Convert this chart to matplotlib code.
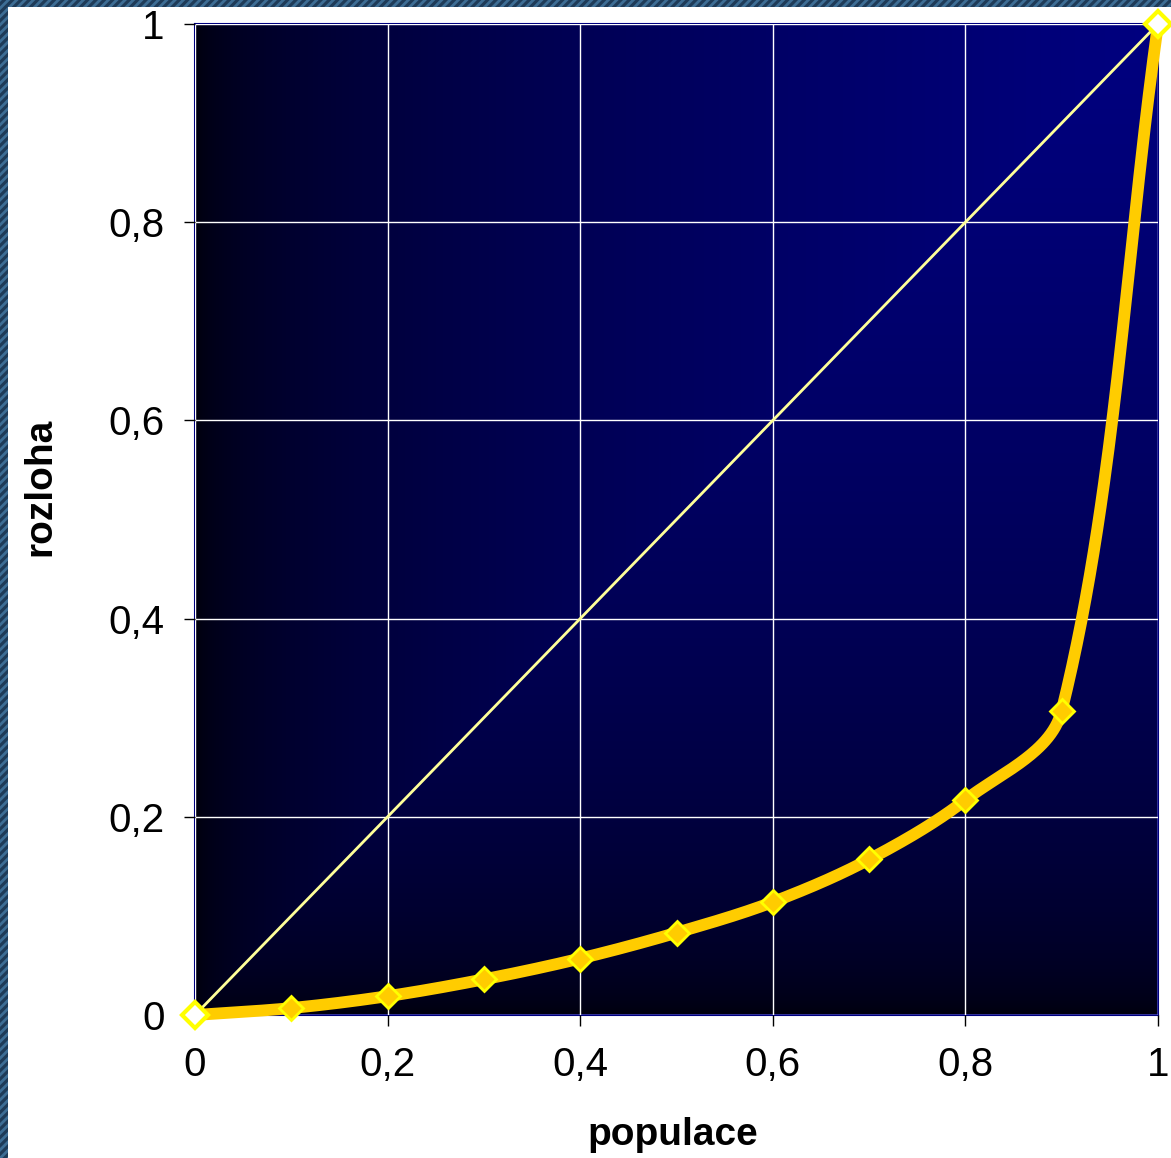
import numpy as np
import matplotlib
matplotlib.use("Agg")
import matplotlib.pyplot as plt
from matplotlib.patches import Rectangle
from matplotlib.colors import LinearSegmentedColormap

plt.rcParams['font.family'] = ['Liberation Sans', 'DejaVu Sans']
plt.rcParams['hatch.linewidth'] = 2.0

# Data
populace = [0.0, 0.1, 0.2, 0.3, 0.4, 0.5, 0.6, 0.7, 0.8, 0.9, 1.0]
rozloha = [0.0, 0.007, 0.019, 0.036, 0.057, 0.083, 0.114, 0.157, 0.217, 0.307, 1.0]
diag_x = [0.0, 1.0]
diag_y = [0.0, 1.0]
tick_vals = [0, 0.2, 0.4, 0.6, 0.8, 1]
tick_labels = ["0", "0,2", "0,4", "0,6", "0,8", "1"]
x_label = "populace"
y_label = "rozloha"


def smooth(xs, ys, n=60):
    P = np.column_stack([xs, ys]).astype(float)
    out = []
    m = len(P)
    d = np.linalg.norm(np.diff(P, axis=0), axis=1)
    for i in range(m - 1):
        p1, p2 = P[i], P[i + 1]
        d12 = d[i]
        if i > 0:
            p0 = P[i - 1]
            c1 = p1 + (p2 - p0) * d12 / (d[i - 1] + d12) / 3.0
        else:
            c1 = p1 + (p2 - p1) / 3.0
        if i + 2 < m:
            p3 = P[i + 2]
            c2 = p2 - (p3 - p1) * d12 / (d12 + d[i + 1]) / 3.0
        else:
            c2 = p2 - (p2 - p1) / 3.0
        t = np.linspace(0, 1, n)[:, None]
        seg = ((1 - t) ** 3) * p1 + 3 * ((1 - t) ** 2) * t * c1 + 3 * (1 - t) * t ** 2 * c2 + t ** 3 * p2
        out.append(seg if i == 0 else seg[1:])
    s = np.vstack(out)
    return s[:, 0], s[:, 1]


fig = plt.figure(figsize=(11.71, 11.58), dpi=100)
fig.patch.set_facecolor('white')

# slide background strips (hatched)
for (x0, y0, w, h) in [(0, 0, 8 / 1171, 1), (0, 1 - 7 / 1158, 1, 7 / 1158)]:
    fig.patches.append(Rectangle((x0, y0), w, h, transform=fig.transFigure,
                                 facecolor='#1e3b58', edgecolor='#3d6d94',
                                 hatch='////', linewidth=0, zorder=0))

ax = fig.add_axes([195 / 1171, 1 - 1015 / 1158, (1158 - 195) / 1171, (1015 - 24) / 1158])

# gradient background
gx, gy = np.meshgrid(np.linspace(0, 1, 400), np.linspace(0, 1, 400))
t = np.sqrt(np.minimum(gx, gy))
cmap = LinearSegmentedColormap.from_list('g', ['#00000a', '#000080'])
ax.imshow(t, extent=[0, 1, 0, 1], origin='lower', cmap=cmap, vmin=0, vmax=1,
          aspect='auto', zorder=0, interpolation='bilinear')

ax.set_xlim(0, 1)
ax.set_ylim(0, 1)
ax.set_xticks(tick_vals)
ax.set_xticklabels(tick_labels)
ax.set_yticks(tick_vals)
ax.set_yticklabels(tick_labels)
ax.grid(True, color='white', linewidth=1.0, zorder=1)
ax.set_axisbelow(False)
ax.tick_params(axis='both', which='major', labelsize=29, length=8, width=1,
               color='black', direction='out', pad=14)
for sp in ax.spines.values():
    sp.set_color('#000080')
    sp.set_linewidth(1.5)

sx, sy = smooth(populace, rozloha)
ax.plot(sx, sy, color='#FFCC00', linewidth=8.5, solid_capstyle='round', zorder=3, clip_on=False)
ax.plot(populace, rozloha, linestyle='none', marker='D', markersize=12,
        markerfacecolor='#FFCC00', markeredgecolor='#FFFF00', markeredgewidth=2,
        zorder=4, clip_on=False)

ax.plot(diag_x, diag_y, color='#FFFF99', linewidth=2, zorder=5, clip_on=False,
        marker='D', markersize=13, markerfacecolor='white', markeredgecolor='#FFFF00',
        markeredgewidth=3)

ax.set_xlabel(x_label, fontsize=28, fontweight='bold')
ax.set_ylabel(y_label, fontsize=28, fontweight='bold')
ax.xaxis.label.set_va('center')
ax.yaxis.label.set_va('center')
ax.xaxis.set_label_coords((673 - 195) / 963, (1015 - 1135) / 991)
ax.yaxis.set_label_coords((40 - 195) / 963, (1015 - 487) / 991)

fig.savefig('out.png', dpi=100, facecolor=fig.get_facecolor())
